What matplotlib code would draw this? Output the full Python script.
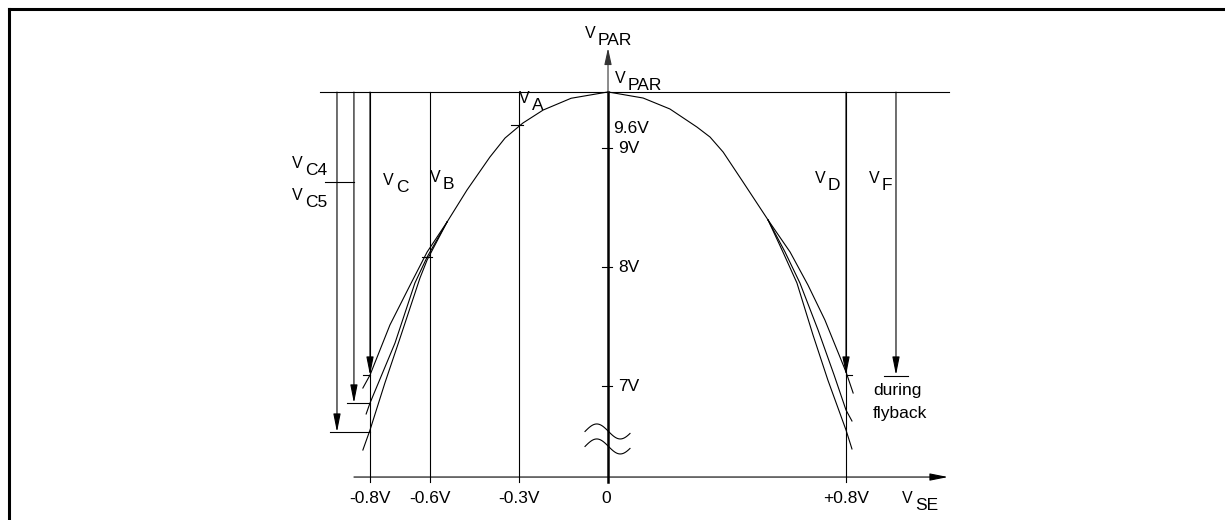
import numpy as np
import matplotlib
matplotlib.use('Agg')
import matplotlib.pyplot as plt
from matplotlib.lines import Line2D

plt.rcParams['font.family'] = ['Liberation Sans', 'DejaVu Sans']

# horizontal: V_SE in volts, vertical: V_PAR in volts (schematic scale)
V_PAR = 9.47
V_A = 9.19            # point marked "9.6V" on the -0.3V line
X_AXIS_Y = 6.235
Y_AXIS_TOP = 9.84
X_AXIS_END = 1.143

x_ticks = [-0.8, -0.6, -0.3, 0.0, 0.8]
x_tick_labels = ['-0.8V', '-0.6V', '-0.3V', '0', '+0.8V']
y_ticks = [9, 8, 7]
y_tick_labels = ['9V', '8V', '7V']

# common upper part of the parabola
top_x = [-0.541, -0.474, -0.397, -0.346, -0.286, -0.218, -0.124, 0.0,
         0.118, 0.208, 0.299, 0.343, 0.387, 0.454, 0.538]
top_y = [8.378, 8.647, 8.924, 9.084, 9.210, 9.319, 9.418, 9.471,
         9.420, 9.328, 9.176, 9.092, 8.966, 8.714, 8.395]

# lower branches, left side
l1_x = [-0.541, -0.608, -0.665, -0.733, -0.800, -0.824]
l1_y = [8.378, 8.126, 7.849, 7.513, 7.092, 6.983]
l2_x = [-0.541, -0.608, -0.649, -0.716, -0.800, -0.813]
l2_y = [8.378, 8.084, 7.866, 7.361, 6.857, 6.765]
l3_x = [-0.541, -0.608, -0.632, -0.699, -0.750, -0.800, -0.824]
l3_y = [8.378, 8.059, 7.908, 7.403, 7.025, 6.630, 6.462]

# lower branches, right side
r1_x = [0.538, 0.612, 0.672, 0.729, 0.800, 0.824]
r1_y = [8.395, 8.126, 7.849, 7.555, 7.118, 6.941]
r2_x = [0.538, 0.595, 0.645, 0.706, 0.760, 0.800, 0.820]
r2_y = [8.395, 8.126, 7.866, 7.471, 7.092, 6.798, 6.706]
r3_x = [0.538, 0.588, 0.635, 0.689, 0.739, 0.800, 0.820]
r3_y = [8.395, 8.126, 7.866, 7.429, 7.050, 6.630, 6.471]

# measurement arrows: x position, arrow end level
arrow_x = [-0.911, -0.854, -0.8, 0.8, 0.968]
arrow_end = [6.613, 6.857, 7.092, 7.092, 7.092]

fig = plt.figure(figsize=(12.25, 5.2), dpi=100)
ax = fig.add_axes([0, 0, 1, 1])
ax.set_xlim(-2.0437, 2.0739)
ax.set_ylim(5.874, 10.2437)
ax.axis('off')

lw = 0.8
k = 'black'
fs = 12.5

# frame
fig.add_artist(Line2D([9 / 1225, 1], [1 - 9 / 520] * 2, transform=fig.transFigure, color=k, lw=2.2))
fig.add_artist(Line2D([9 / 1225] * 2, [0, 1 - 9 / 520], transform=fig.transFigure, color=k, lw=2.2))

# V_PAR level line
ax.plot([-0.968, 1.147], [V_PAR, V_PAR], color=k, lw=lw)

# curves
ax.plot(top_x, top_y, color=k, lw=lw)
for bx, by in [(l1_x, l1_y), (l2_x, l2_y), (l3_x, l3_y),
               (r1_x, r1_y), (r2_x, r2_y), (r3_x, r3_y)]:
    ax.plot(bx, by, color=k, lw=lw)

# vertical lines at the x ticks
tick_bottom = 6.193
for xt in x_ticks:
    if xt != 0:
        ax.plot([xt, xt], [V_PAR, tick_bottom], color=k, lw=lw)


def down_arrow(x, y0, y1):
    ax.annotate('', xy=(x, y1), xytext=(x, y0),
                arrowprops=dict(arrowstyle='-|>,head_length=1.1,head_width=0.22',
                                mutation_scale=10, lw=lw, color=k,
                                shrinkA=0, shrinkB=0))


for xa, ya in zip(arrow_x, arrow_end):
    down_arrow(xa, V_PAR, ya)

# little level marks at the arrow ends
ax.plot([-0.934, -0.8], [arrow_end[0]] * 2, color=k, lw=lw)
ax.plot([-0.877, -0.8], [arrow_end[1]] * 2, color=k, lw=lw)
ax.plot([-0.824, -0.8], [arrow_end[2]] * 2, color=k, lw=lw)
ax.plot([0.8, 0.82], [arrow_end[3]] * 2, color=k, lw=lw)
ax.plot([0.928, 1.008], [arrow_end[4] - 0.01] * 2, color=k, lw=lw)
ax.plot([-0.951, -0.854], [8.714, 8.714], color=k, lw=lw)

# marks on the curve
ax.plot([-0.326, -0.286], [V_A, V_A], color=k, lw=lw)
ax.plot([-0.626, -0.590], [8.084, 8.084], color=k, lw=lw)

# y axis
ax.plot([0, 0], [tick_bottom, V_PAR], color=k, lw=1.8)
ax.annotate('', xy=(0, Y_AXIS_TOP), xytext=(0, V_PAR),
            arrowprops=dict(arrowstyle='-|>,head_length=1.0,head_width=0.22',
                            mutation_scale=10, lw=lw, color='#333333',
                            shrinkA=0, shrinkB=0))
for yt, lab in zip(y_ticks, y_tick_labels):
    ax.plot([-0.020, 0.013], [yt, yt], color=k, lw=lw)
    ax.text(0.0336, yt - 0.045, lab, fontsize=fs, ha='left', va='baseline')
ax.text(0.0168, V_A - 0.06, '9.6V', fontsize=fs, ha='left', va='baseline')

# x axis
ax.annotate('', xy=(X_AXIS_END, X_AXIS_Y), xytext=(-0.854, X_AXIS_Y),
            arrowprops=dict(arrowstyle='-|>,head_length=1.1,head_width=0.22',
                            mutation_scale=10, lw=lw, color=k,
                            shrinkA=0, shrinkB=0))
for xt, lab in zip(x_ticks, x_tick_labels):
    ax.text(xt - (0.007 if xt == 0 else 0), 6.017, lab, fontsize=fs,
            ha='center', va='baseline')

# axis break
wx = np.linspace(-0.0773, 0.0739, 60)
wave = 0.063 * np.sin(2 * np.pi * (wx + 0.0773) / 0.158)
ax.plot(wx, 6.618 + wave, color=k, lw=lw)
ax.plot(wx, 6.492 + wave, color=k, lw=lw)


def vsub(x, y, sub):
    ax.text(x, y, 'V', fontsize=11.5, ha='left', va='baseline')
    ax.annotate(sub, xy=(x, y), xytext=(9.4, -5.0), textcoords='offset points',
                fontsize=fs, ha='left', va='baseline')


vsub(-0.0773, 9.924, 'PAR')
vsub(0.0235, 9.546, 'PAR')
vsub(-0.2992, 9.378, 'A')
vsub(-1.0622, 8.832, 'C4')
vsub(-1.0622, 8.563, 'C5')
vsub(-0.7563, 8.689, 'C')
vsub(-0.5983, 8.714, 'B')
vsub(0.6958, 8.706, 'D')
vsub(0.8773, 8.706, 'F')
vsub(0.9882, 6.017, 'SE')

ax.text(0.8908, 6.924, 'during', fontsize=fs, ha='left', va='baseline')
ax.text(0.8908, 6.731, 'flyback', fontsize=fs, ha='left', va='baseline')

fig.savefig('out.png', dpi=100)
